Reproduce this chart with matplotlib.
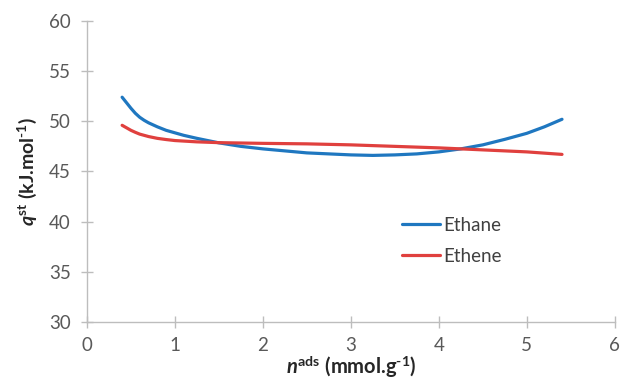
import matplotlib
matplotlib.use("Agg")
import matplotlib.pyplot as plt

# heat of adsorption vs loading
ethane_n = [0.4, 0.45, 0.5, 0.55, 0.6, 0.65, 0.7, 0.8, 0.9, 1.0, 1.1, 1.25, 1.5, 1.75, 2.0, 2.5,
            3.0, 3.25, 3.5, 3.75, 4.0, 4.25, 4.5, 4.75, 5.0, 5.2, 5.4]
ethane_q = [52.4, 51.85, 51.3, 50.8, 50.4, 50.1, 49.85, 49.45, 49.1, 48.85, 48.6, 48.3, 47.85, 47.5, 47.25, 46.85,
            46.65, 46.6, 46.65, 46.75, 46.95, 47.25, 47.65, 48.2, 48.8, 49.45, 50.2]

ethene_n = [0.4, 0.45, 0.5, 0.55, 0.6, 0.7, 0.8, 0.9, 1.0, 1.25, 1.5, 2.0, 2.5, 3.0, 3.5, 4.0, 4.25, 4.5, 5.0, 5.4]
ethene_q = [49.6, 49.35, 49.1, 48.9, 48.72, 48.48, 48.3, 48.18, 48.08, 47.95, 47.87, 47.8, 47.75, 47.65, 47.5, 47.35,
            47.25, 47.15, 46.95, 46.7]

x_ticks = [0, 1, 2, 3, 4, 5, 6]
y_ticks = [30, 35, 40, 45, 50, 55, 60]

plt.rcParams['font.family'] = ['Lato', 'DejaVu Sans']
plt.rcParams['mathtext.fontset'] = 'custom'
plt.rcParams['mathtext.rm'] = 'Lato:bold'
plt.rcParams['mathtext.it'] = 'Lato:bold:italic'
plt.rcParams['mathtext.bf'] = 'Lato:bold'

fig = plt.figure(figsize=(6.21, 3.81), dpi=100)
ax = fig.add_axes([0.140, 0.155, 0.850, 0.790])

ax.plot(ethane_n, ethane_q, color='#1f77c0', lw=2.3, label='Ethane', solid_capstyle='round')
ax.plot(ethene_n, ethene_q, color='#e0403e', lw=2.3, label='Ethene', solid_capstyle='round')

ax.set_xlim(0, 6)
ax.set_ylim(30, 60)
ax.set_xticks(x_ticks)
ax.set_yticks(y_ticks)

for s in ['top', 'right']:
    ax.spines[s].set_visible(False)
for s in ['left', 'bottom']:
    ax.spines[s].set_color('#bdbdbd')
    ax.spines[s].set_linewidth(1.0)
ax.tick_params(direction='inout', length=9, width=1.0, color='#bdbdbd',
               labelsize=13.5, labelcolor='#595959')
ax.tick_params(axis='x', pad=6)
ax.tick_params(axis='y', pad=7)

ax.set_xlabel(r'$n^{\mathrm{ads}}$ (mmol.g$^{\text{-1}}$)', fontsize=14.5, fontweight='bold',
              color='#262626', labelpad=0)
ax.set_ylabel(r'$q^{\mathrm{st}}$ (kJ.mol$^{\text{-1}}$)', fontsize=14, fontweight='bold',
              color='#262626', labelpad=7)

ax.legend(loc='upper left', bbox_to_anchor=(0.565, 0.405), frameon=False, fontsize=13.5,
          handlelength=2.0, handletextpad=0.2, labelspacing=0.75, labelcolor='#404040')

fig.savefig('out.png', dpi=100)
